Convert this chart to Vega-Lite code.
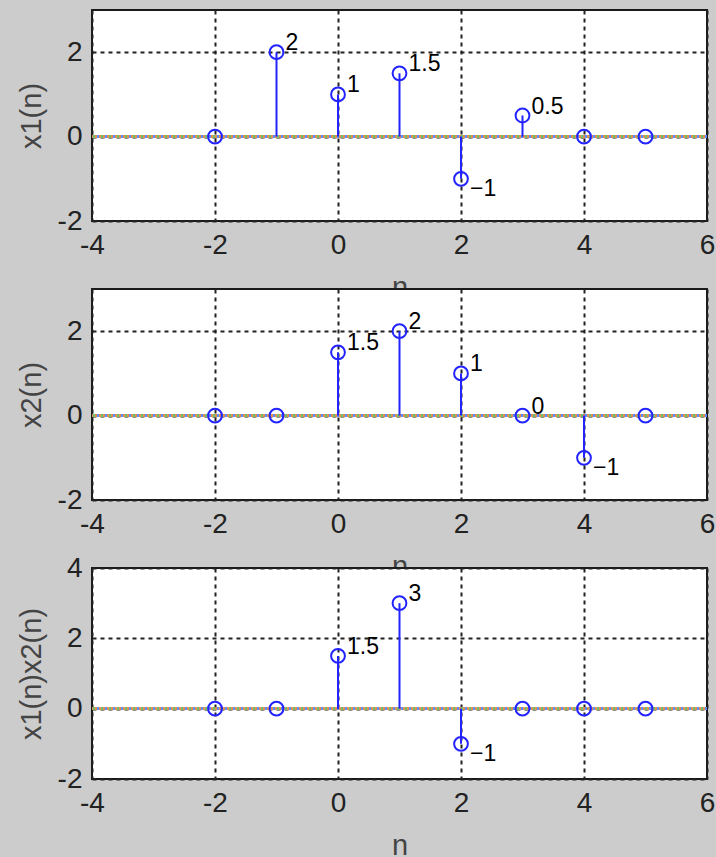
{
  "$schema": "https://vega.github.io/schema/vega-lite/v6.json",
  "autosize": {"type": "pad"},
  "padding": {"left": 16, "top": 9, "right": 5, "bottom": 5},
  "background": "#cccccc",
  "bounds": "flush",
  "spacing": 68,
  "datasets": {
    "seq": [
      {"p": 1, "n": -2, "v": 0, "label": ""},
      {"p": 1, "n": -1, "v": 2, "label": "2"},
      {"p": 1, "n": 0, "v": 1, "label": "1"},
      {"p": 1, "n": 1, "v": 1.5, "label": "1.5"},
      {"p": 1, "n": 2, "v": -1, "label": "−1"},
      {"p": 1, "n": 3, "v": 0.5, "label": "0.5"},
      {"p": 1, "n": 4, "v": 0, "label": ""},
      {"p": 1, "n": 5, "v": 0, "label": ""},
      {"p": 2, "n": -2, "v": 0, "label": ""},
      {"p": 2, "n": -1, "v": 0, "label": ""},
      {"p": 2, "n": 0, "v": 1.5, "label": "1.5"},
      {"p": 2, "n": 1, "v": 2, "label": "2"},
      {"p": 2, "n": 2, "v": 1, "label": "1"},
      {"p": 2, "n": 3, "v": 0, "label": "0"},
      {"p": 2, "n": 4, "v": -1, "label": "−1"},
      {"p": 2, "n": 5, "v": 0, "label": ""},
      {"p": 3, "n": -2, "v": 0, "label": ""},
      {"p": 3, "n": -1, "v": 0, "label": ""},
      {"p": 3, "n": 0, "v": 1.5, "label": "1.5"},
      {"p": 3, "n": 1, "v": 3, "label": "3"},
      {"p": 3, "n": 2, "v": -1, "label": "−1"},
      {"p": 3, "n": 3, "v": 0, "label": ""},
      {"p": 3, "n": 4, "v": 0, "label": ""},
      {"p": 3, "n": 5, "v": 0, "label": ""}
    ]
  },
  "vconcat": [
    {
      "width": 615,
      "height": 211,
      "data": {"name": "seq"},
      "transform": [{"filter": "datum.p == 1"}],
      "encoding": {
        "x": {"field": "n", "type": "quantitative", "scale": {"domain": [-4, 6], "nice": false, "zero": false}, "axis": {"values": [-4, -2, 0, 2, 4, 6], "title": "n"}}
      },
      "layer": [
        {"mark": {"type": "rule", "color": "#e09050", "strokeWidth": 2}, "encoding": {"x": null, "y": {"datum": 0, "type": "quantitative", "scale": {"domain": [-2, 3], "nice": false, "zero": false}, "axis": {"values": [-2, 0, 2], "title": "x1(n)"}}}},
        {"mark": {"type": "rule", "color": "#5a8cff", "strokeWidth": 2, "strokeDash": [2, 6]}, "encoding": {"x": null, "y": {"datum": 0, "type": "quantitative"}}},
        {"mark": {"type": "rule", "color": "#70c070", "strokeWidth": 2, "strokeDash": [2, 6], "strokeDashOffset": 4}, "encoding": {"x": null, "y": {"datum": 0, "type": "quantitative"}}},
        {"mark": {"type": "rule", "color": "#2323ff", "strokeWidth": 2}, "encoding": {"y": {"field": "v", "type": "quantitative"}, "y2": {"datum": 0}}},
        {"mark": {"type": "point", "shape": "circle", "filled": false, "color": "#2323ff", "size": 190, "strokeWidth": 2, "opacity": 1}, "encoding": {"y": {"field": "v", "type": "quantitative"}}},
        {"transform": [{"filter": "datum.v >= 0 && datum.label != ''"}], "mark": {"type": "text", "align": "left", "baseline": "middle", "dx": 9, "dy": -9, "font": "Liberation Sans", "fontSize": 23, "color": "#000"}, "encoding": {"y": {"field": "v", "type": "quantitative"}, "text": {"field": "label"}}},
        {"transform": [{"filter": "datum.v < 0"}], "mark": {"type": "text", "align": "left", "baseline": "middle", "dx": 9, "dy": 10, "font": "Liberation Sans", "fontSize": 23, "color": "#000"}, "encoding": {"y": {"field": "v", "type": "quantitative"}, "text": {"field": "label"}}}
      ]
    },
    {
      "width": 615,
      "height": 211,
      "data": {"name": "seq"},
      "transform": [{"filter": "datum.p == 2"}],
      "encoding": {
        "x": {"field": "n", "type": "quantitative", "scale": {"domain": [-4, 6], "nice": false, "zero": false}, "axis": {"values": [-4, -2, 0, 2, 4, 6], "title": "n"}}
      },
      "layer": [
        {"mark": {"type": "rule", "color": "#e09050", "strokeWidth": 2}, "encoding": {"x": null, "y": {"datum": 0, "type": "quantitative", "scale": {"domain": [-2, 3], "nice": false, "zero": false}, "axis": {"values": [-2, 0, 2], "title": "x2(n)"}}}},
        {"mark": {"type": "rule", "color": "#5a8cff", "strokeWidth": 2, "strokeDash": [2, 6]}, "encoding": {"x": null, "y": {"datum": 0, "type": "quantitative"}}},
        {"mark": {"type": "rule", "color": "#70c070", "strokeWidth": 2, "strokeDash": [2, 6], "strokeDashOffset": 4}, "encoding": {"x": null, "y": {"datum": 0, "type": "quantitative"}}},
        {"mark": {"type": "rule", "color": "#2323ff", "strokeWidth": 2}, "encoding": {"y": {"field": "v", "type": "quantitative"}, "y2": {"datum": 0}}},
        {"mark": {"type": "point", "shape": "circle", "filled": false, "color": "#2323ff", "size": 190, "strokeWidth": 2, "opacity": 1}, "encoding": {"y": {"field": "v", "type": "quantitative"}}},
        {"transform": [{"filter": "datum.v >= 0 && datum.label != ''"}], "mark": {"type": "text", "align": "left", "baseline": "middle", "dx": 9, "dy": -9, "font": "Liberation Sans", "fontSize": 23, "color": "#000"}, "encoding": {"y": {"field": "v", "type": "quantitative"}, "text": {"field": "label"}}},
        {"transform": [{"filter": "datum.v < 0"}], "mark": {"type": "text", "align": "left", "baseline": "middle", "dx": 9, "dy": 10, "font": "Liberation Sans", "fontSize": 23, "color": "#000"}, "encoding": {"y": {"field": "v", "type": "quantitative"}, "text": {"field": "label"}}}
      ]
    },
    {
      "width": 615,
      "height": 211,
      "data": {"name": "seq"},
      "transform": [{"filter": "datum.p == 3"}],
      "encoding": {
        "x": {"field": "n", "type": "quantitative", "scale": {"domain": [-4, 6], "nice": false, "zero": false}, "axis": {"values": [-4, -2, 0, 2, 4, 6], "title": "n"}}
      },
      "layer": [
        {"mark": {"type": "rule", "color": "#e09050", "strokeWidth": 2}, "encoding": {"x": null, "y": {"datum": 0, "type": "quantitative", "scale": {"domain": [-2, 4], "nice": false, "zero": false}, "axis": {"values": [-2, 0, 2, 4], "title": "x1(n)x2(n)"}}}},
        {"mark": {"type": "rule", "color": "#5a8cff", "strokeWidth": 2, "strokeDash": [2, 6]}, "encoding": {"x": null, "y": {"datum": 0, "type": "quantitative"}}},
        {"mark": {"type": "rule", "color": "#70c070", "strokeWidth": 2, "strokeDash": [2, 6], "strokeDashOffset": 4}, "encoding": {"x": null, "y": {"datum": 0, "type": "quantitative"}}},
        {"mark": {"type": "rule", "color": "#2323ff", "strokeWidth": 2}, "encoding": {"y": {"field": "v", "type": "quantitative"}, "y2": {"datum": 0}}},
        {"mark": {"type": "point", "shape": "circle", "filled": false, "color": "#2323ff", "size": 190, "strokeWidth": 2, "opacity": 1}, "encoding": {"y": {"field": "v", "type": "quantitative"}}},
        {"transform": [{"filter": "datum.v >= 0 && datum.label != ''"}], "mark": {"type": "text", "align": "left", "baseline": "middle", "dx": 9, "dy": -9, "font": "Liberation Sans", "fontSize": 23, "color": "#000"}, "encoding": {"y": {"field": "v", "type": "quantitative"}, "text": {"field": "label"}}},
        {"transform": [{"filter": "datum.v < 0"}], "mark": {"type": "text", "align": "left", "baseline": "middle", "dx": 9, "dy": 10, "font": "Liberation Sans", "fontSize": 23, "color": "#000"}, "encoding": {"y": {"field": "v", "type": "quantitative"}, "text": {"field": "label"}}}
      ]
    }
  ],
  "config": {
    "view": {"fill": "white", "stroke": "#1a1a1a", "strokeWidth": 2},
    "axis": {
      "domain": false,
      "ticks": false,
      "tickSize": 0,
      "grid": true,
      "gridColor": "#222222",
      "gridDash": [4, 4],
      "gridWidth": 2,
      "gridOpacity": 1,
      "labelFont": "Liberation Sans",
      "labelFontSize": 28,
      "labelColor": "#222222",
      "labelPadding": 10,
      "labelFlush": false,
      "labelOverlap": false,
      "labelExpr": "'' + datum.value",
      "titleFont": "Liberation Sans",
      "titleFontSize": 29,
      "titleFontWeight": "normal",
      "titleColor": "#444444"
    },
    "axisX": {"titleBaseline": "alphabetic", "titleY": 75},
    "axisY": {"titleX": -46}
  }
}
